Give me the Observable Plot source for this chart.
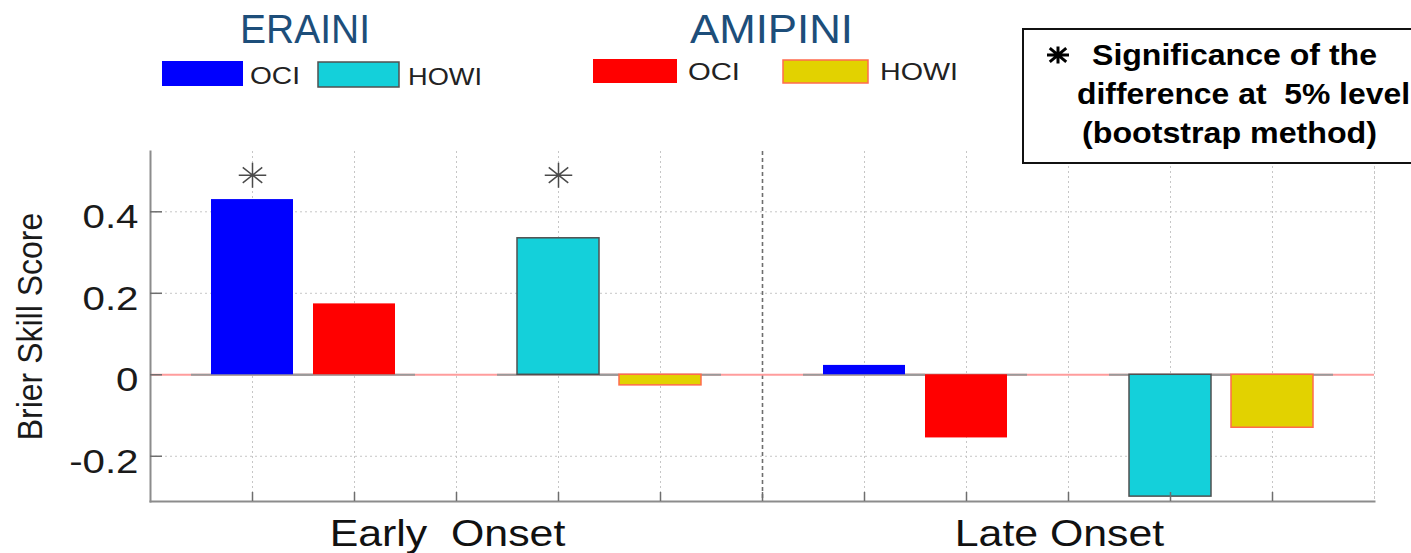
<!DOCTYPE html>
<html>
<head>
<meta charset="utf-8">
<script src="https://cdn.jsdelivr.net/npm/d3@7"></script>
<script src="https://cdn.jsdelivr.net/npm/@observablehq/plot@0.6"></script>
<style>
  body { margin: 0; background: #fff; }
  #fig { position: relative; width: 1411px; height: 553px; overflow: hidden; background: #fff;
         font-family: "Liberation Sans", Arial, Helvetica, sans-serif; }
  #fig svg { position: absolute; left: 0; top: 0; }
  #fig text { white-space: pre; }
</style>
</head>
<body>
<div id="fig"></div>
<script>
// ---- data -------------------------------------------------------------
const onsets = ["Early  Onset", "Late Onset"];
const indices = ["OCI", "HOWI"];
const datasets = ["ERAINI", "AMIPINI"];

// Brier Skill Score, one value per onset class (early, late)
const eraOci   = [0.430,  0.023];
const amipOci  = [0.174, -0.155];
const eraHowi  = [0.335, -0.299];
const amipHowi = [-0.026, -0.130];

// differences significant at the 5% level (bootstrap)
const significant = [
  {onset: "Early  Onset", index: "OCI",  dataset: "ERAINI"},
  {onset: "Early  Onset", index: "HOWI", dataset: "ERAINI"}
];

const yTicks = [-0.2, 0, 0.2, 0.4];
const yTitle = "Brier Skill Score";
const noteLines = ["Significance of the", "difference at  5% level", "(bootstrap method)"];

// ---- styling ----------------------------------------------------------
const seriesStyle = {
  "ERAINI OCI":   {fill: "#0000ff", stroke: "none"},
  "ERAINI HOWI":  {fill: "#14d0da", stroke: "#505050"},
  "AMIPINI OCI":  {fill: "#ff0000", stroke: "none"},
  "AMIPINI HOWI": {fill: "#e2d200", stroke: "#ff6b4d"}
};
const gridColor = "#c6c6c6";
const axisColor = "#8c8c8c";
const starLevel = 0.49;

// ---- table ------------------------------------------------------------
const values = {ERAINI: {OCI: eraOci, HOWI: eraHowi}, AMIPINI: {OCI: amipOci, HOWI: amipHowi}};
// each onset block holds 5 slots: OCI pair, gap, HOWI pair; a divider slot separates blocks
const slotOf = (o, i, d) => onsets.indexOf(o) * 6 + indices.indexOf(i) * 3 + datasets.indexOf(d) + 1;
const bars = onsets.flatMap((o, oi) => indices.flatMap(i => datasets.map(d => ({
  onset: o, index: i, dataset: d, key: `${d} ${i}`, slot: slotOf(o, i, d), value: values[d][i][oi]
}))));
const slots = d3.range(1, 12);
const dividerSlot = 6;
const groupLabels = onsets.map((o, oi) => ({label: o, slot: oi * 6 + 3}));
const stars = significant.map(s => ({...s, slot: slotOf(s.onset, s.index, s.dataset)}));

// eight-armed asterisk marker
const asterisk8 = {
  draw(context, size) {
    const r = Math.sqrt(size / Math.PI);
    const a = r * 0.78, b = r * 0.62;
    context.moveTo(-r * 1.1, 0); context.lineTo(r * 1.1, 0);
    context.moveTo(0, -r); context.lineTo(0, r);
    context.moveTo(-a, -b); context.lineTo(a, b);
    context.moveTo(-a, b); context.lineTo(a, -b);
  }
};

const W = 1411, H = 553, mL = 150, mR = 37, mT = 151, mB = 52;
const frameW = W - mL - mR, frameH = H - mT - mB;

const chart = Plot.plot({
  width: W, height: H,
  marginLeft: mL, marginRight: mR, marginTop: mT, marginBottom: mB,
  style: {fontFamily: '"Liberation Sans", Arial, Helvetica, sans-serif', color: "#1a1a1a", background: "transparent", overflow: "visible"},
  x: {type: "band", domain: slots, paddingInner: 0.2, paddingOuter: 0.6, axis: null},
  y: {domain: [-0.311, 0.548], axis: null},
  marks: [
    // dotted grid
    Plot.ruleY([-0.2, 0.2, 0.4], {y: d => d, stroke: gridColor, strokeDasharray: "2,3"}),
    Plot.ruleX(slots.filter(s => s !== dividerSlot), {x: d => d, stroke: gridColor, strokeDasharray: "2,3"}),
    Plot.frame({anchor: "right", stroke: gridColor, strokeDasharray: "2,3"}),
    // divider between onset classes
    Plot.ruleX([dividerSlot], {x: d => d, stroke: "#6e6e6e", strokeWidth: 1.6, strokeDasharray: "4,3"}),
    // zero baseline, grey under each bar
    Plot.ruleY([0], {y: d => d, stroke: "#ff9d9d", strokeWidth: 2}),
    Plot.tickY(bars, {x: "slot", y: () => 0, stroke: "#9a9a9a", strokeWidth: 2, insetLeft: -20, insetRight: -20}),
    // bars
    ...Object.keys(seriesStyle).map(k => Plot.barY(bars.filter(b => b.key === k), {
      x: "slot", y: "value", fill: seriesStyle[k].fill, stroke: seriesStyle[k].stroke, strokeWidth: 1.5
    })),
    // significance markers
    Plot.dot(stars, {x: "slot", y: () => starLevel, symbol: asterisk8, r: 12.5, fill: "none", stroke: "#4a4a4a", strokeWidth: 1.5}),
    // axes lines and inward ticks
    Plot.frame({anchor: "left", stroke: axisColor, strokeWidth: 2}),
    Plot.frame({anchor: "bottom", stroke: axisColor, strokeWidth: 2}),
    Plot.tickY(yTicks, {y: d => d, insetRight: frameW - 12, stroke: "#6e6e6e", strokeWidth: 1.5}),
    Plot.tickX(slots, {x: d => d, insetTop: frameH - 9, stroke: "#6e6e6e", strokeWidth: 1.5}),
    Plot.axisY({ticks: yTicks, tickSize: 0, tickPadding: 12, fontSize: 33, tickFormat: d => String(d), label: null}),
    Plot.text([yTitle], {frameAnchor: "left", textAnchor: "middle", dx: -120, rotate: -90, fontSize: 32, fill: "#1a1a1a"}),
    Plot.text(groupLabels, {x: "slot", text: "label", frameAnchor: "bottom", textAnchor: "middle", lineAnchor: "bottom", dy: 44, dx: -9, fontSize: 36, fill: "#111"})
  ]
});

// widen glyphs to the figure's proportions
function stretch(root, labels, sx, sy, dy = 0) {
  const wanted = new Set(labels);
  root.querySelectorAll("text").forEach(t => {
    if (!wanted.has(t.textContent)) return;
    const tr = t.getAttribute("transform") || "";
    t.setAttribute("transform", `${tr} translate(0,${dy}) scale(${sx},${sy})`);
  });
}
stretch(chart, yTicks.map(String), 1.22, 1, 6);
stretch(chart, [yTitle], 1, 1.12);
stretch(chart, onsets, 1.19, 1);

const fig = document.getElementById("fig");
fig.appendChild(chart);

// ---- legend and note ----------------------------------------------------
const overlay = d3.select(fig).append("svg")
  .attr("width", W).attr("height", H)
  .style("font-family", '"Liberation Sans", Arial, Helvetica, sans-serif');

const legendLayout = {
  ERAINI:  {title: {x: 240, y: 43, len: 130},
            OCI:  {rect: [162, 61, 81, 25], text: {x: 250, y: 84, len: 50}},
            HOWI: {rect: [318, 62, 81, 25], text: {x: 408, y: 85, len: 74}}},
  AMIPINI: {title: {x: 690, y: 43, len: 163},
            OCI:  {rect: [593, 59, 84, 24], text: {x: 688, y: 80, len: 52}},
            HOWI: {rect: [783, 60, 85, 23], text: {x: 880, y: 80, len: 78}}}
};

for (const d of datasets) {
  const L = legendLayout[d];
  overlay.append("text")
    .attr("x", L.title.x).attr("y", L.title.y)
    .attr("font-size", 40).attr("fill", "#1d4e7a")
    .attr("textLength", L.title.len).attr("lengthAdjust", "spacingAndGlyphs")
    .text(d);
  for (const i of indices) {
    const s = seriesStyle[`${d} ${i}`];
    const [rx, ry, rw, rh] = L[i].rect;
    overlay.append("rect")
      .attr("x", rx).attr("y", ry).attr("width", rw).attr("height", rh)
      .attr("fill", s.fill).attr("stroke", s.stroke).attr("stroke-width", 1.5);
    overlay.append("text")
      .attr("x", L[i].text.x).attr("y", L[i].text.y)
      .attr("font-size", 24).attr("fill", "#222")
      .attr("textLength", L[i].text.len).attr("lengthAdjust", "spacingAndGlyphs")
      .text(i);
  }
}

// significance note box (runs off the right edge)
overlay.append("path")
  .attr("d", "M1460,29H1023V163H1460")
  .attr("fill", "#fff").attr("stroke", "#111").attr("stroke-width", 2);
const ax = 1058, ay = 55, arx = 11, ary = 8.5;
overlay.append("path")
  .attr("d", `M${ax - arx},${ay}H${ax + arx}M${ax},${ay - ary}V${ay + ary}` +
             `M${ax - arx * 0.75},${ay - ary * 0.8}L${ax + arx * 0.75},${ay + ary * 0.8}` +
             `M${ax - arx * 0.75},${ay + ary * 0.8}L${ax + arx * 0.75},${ay - ary * 0.8}`)
  .attr("stroke", "#000").attr("stroke-width", 3).attr("fill", "none");
const noteLayout = [{x: 1092, y: 65, len: 285}, {x: 1077, y: 104, len: 333}, {x: 1082, y: 143, len: 295}];
noteLines.forEach((line, k) => {
  overlay.append("text")
    .attr("x", noteLayout[k].x).attr("y", noteLayout[k].y)
    .attr("font-size", 30).attr("font-weight", "bold").attr("fill", "#000")
    .attr("textLength", noteLayout[k].len).attr("lengthAdjust", "spacingAndGlyphs")
    .text(line);
});
</script>
</body>
</html>
